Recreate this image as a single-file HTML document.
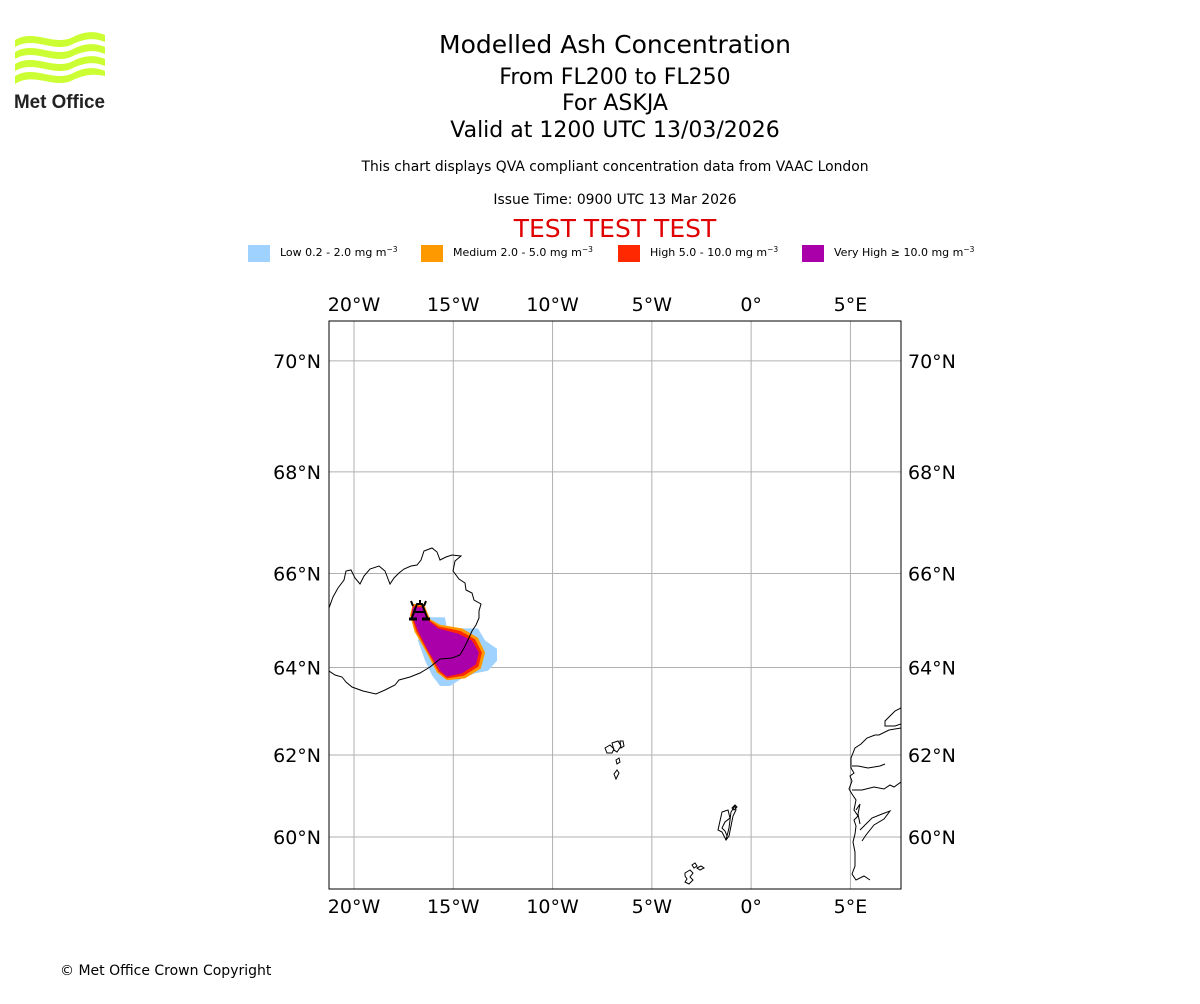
<!DOCTYPE html>
<html><head><meta charset="utf-8"><style>
body{margin:0;width:1200px;height:1000px;background:#fff;overflow:hidden;font-family:"DejaVu Sans","Liberation Sans",sans-serif;}
</style></head><body>
<svg width="1200" height="1000" viewBox="0 0 1200 1000" xmlns="http://www.w3.org/2000/svg" font-family="DejaVu Sans, Liberation Sans, sans-serif">
<g>
  <g fill="#ccff33">
    <path d="M15,40 C35,28 55,48 75,36 C88,30 98,32 105,35 L105,42 C95,38 88,38 75,43 C55,55 35,35 15,47Z"/>
    <path d="M15,52 C35,40 55,60 75,48 C88,42 98,44 105,47 L105,54 C95,50 88,50 75,55 C55,67 35,47 15,59Z"/>
    <path d="M15,64 C35,52 55,72 75,60 C88,54 98,56 105,59 L105,66 C95,62 88,62 75,67 C55,79 35,59 15,71Z"/>
    <path d="M15,76 C35,64 55,84 75,72 C88,66 98,68 105,71 L105,76 C95,74 88,74 75,79 C55,91 35,71 15,84Z"/>
  </g>
  <text x="14" y="108" font-size="19" font-weight="bold" fill="#222" font-family="Liberation Sans, sans-serif" textLength="91" lengthAdjust="spacingAndGlyphs">Met Office</text>
</g>
<g text-anchor="middle" fill="#000">
  <text x="615" y="53" font-size="25">Modelled Ash Concentration</text>
  <text x="615" y="84" font-size="22">From FL200 to FL250</text>
  <text x="615" y="110" font-size="22">For ASKJA</text>
  <text x="615" y="137" font-size="22">Valid at 1200 UTC 13/03/2026</text>
  <text x="615" y="171" font-size="13.9">This chart displays QVA compliant concentration data from VAAC London</text>
  <text x="615" y="204" font-size="13.9">Issue Time: 0900 UTC 13 Mar 2026</text>
  <text x="615" y="237" font-size="25" fill="#e00000">TEST TEST TEST</text>
</g>
<g font-size="11">
  <g><rect x="248" y="245" width="22" height="17" fill="#a0d2ff"/><text x="280" y="256">Low 0.2 - 2.0 mg m<tspan dy="-4" font-size="7.5">−3</tspan></text></g>
  <g><rect x="421" y="245" width="22" height="17" fill="#ff9900"/><text x="453" y="256">Medium 2.0 - 5.0 mg m<tspan dy="-4" font-size="7.5">−3</tspan></text></g>
  <g><rect x="618" y="245" width="22" height="17" fill="#ff2800"/><text x="650" y="256">High 5.0 - 10.0 mg m<tspan dy="-4" font-size="7.5">−3</tspan></text></g>
  <g><rect x="802" y="245" width="22" height="17" fill="#aa00aa"/><text x="834" y="256">Very High  ≥  10.0 mg m<tspan dy="-4" font-size="7.5">−3</tspan></text></g>
</g>
<defs><clipPath id="mapclip"><rect x="329" y="321" width="572" height="568"/></clipPath></defs>
<g id="grid"></g>
<g id="plume" clip-path="url(#mapclip)"></g>
<g clip-path="url(#mapclip)" fill="none" stroke="#000" stroke-width="1">
  <path d="M329,608 L333,597 338,588 344,580 346,571 351,570 355,578 360,584 364,576 370,569 379,566 385,571 390,584 394,578 399,573 404,569 411,566 417,565 421,560 424,551 432,548 437,552 440,560 446,557 452,555 461,556 455,561 453,571 459,579 465,583 466,590 472,593 474,600 481,604 479,611 479,618 476,625 472,631 468,640 464,648 460,655 452,658 440,659 430,667 420,673 410,677 399,680 395,685 385,690 376,694 363,691 352,687 346,682 342,677 335,675 329,671"/>
  <path d="M605,748 l5,-3 4,4 -2,4 -5,0z M612,743 l6,-2 3,5 -4,6 -3,-2z M620,741 l3,0 1,5 -3,2z M616,760 l3,-2 1,4 -3,2z M614,774 l3,-4 2,3 -3,6z"/>
  <path d="M722,812 l6,-2 2,8 -5,4 -3,6 3,3 2,5 -1,4 3,-12 2,-16 4,-6 1,4 -3,6 -2,10 -2,10 -3,4 -2,-4 -2,-4 -4,-2z M732,808 l3,-3 2,2 -3,3z"/>
  <path d="M685,873 l5,-3 3,3 -3,4 3,3 -4,4 -4,-2 2,-3 -2,-3z M692,865 l3,-2 2,3 -3,2z M697,868 l4,-2 3,2 -4,2z"/>
  <path d="M901,708 l-6,3 -10,10 0,5 10,0 6,-2 M901,728 l-12,2 -10,5 -4,0 -8,3 -6,6 -6,4 -4,10 0,10 3,5 -4,3 2,5 -3,8 3,5 4,6 -2,10 4,6 -4,4 2,6 -1,8 -2,8 2,10 0,14 -3,8 4,6 8,-4 6,4 M852,766 l6,0 10,2 12,-2 5,-2 M852,790 l10,0 12,-3 10,2 6,-4 4,2 7,-5 M860,830 l12,-12 10,-4 8,-3 -6,8 -10,6 -8,10 -4,6 M856,810 l4,-6 -2,10 2,10"/>
</g>
<g stroke="#000" stroke-width="2" fill="none">
  <path d="M414,612 L417,604 L422,604 L425,612"/>
  <path d="M411,620 L414,612 L425,612 L428,620" />
  <path d="M409,619 h8 M422,619 h8" stroke-width="3"/>
  <path d="M413,606 l-2,-5 M420,604 v-4 M424,606 l2,-5"/>
</g>
<rect x="329" y="321" width="572" height="568" fill="none" stroke="#000" stroke-width="1"/>
<g id="ticks" font-size="19" fill="#000"></g>
<text x="60" y="975" font-size="14">© Met Office Crown Copyright</text>
</svg>
<script>
var lonTicks = [-20, -15, -10, -5, 0, 5];
var lonLabels = ["20°W", "15°W", "10°W", "5°W", "0°", "5°E"];
var latTicks = [60, 62, 64, 66, 68, 70];
var latLabels = ["60°N", "62°N", "64°N", "66°N", "68°N", "70°N"];
var lowLon = [-16.17,-15.42,-15.32,-13.76,-13.40,-12.80,-12.80,-13.25,-13.91,-14.56,-15.17,-15.67,-16.07,-16.42,-16.78];
var lowLat = [65.09,65.09,64.85,64.85,64.59,64.41,64.15,63.93,63.87,63.76,63.59,63.59,63.83,64.15,64.59];
var medLon = [-17.03,-16.48,-16.17,-15.67,-14.56,-13.76,-13.40,-13.61,-14.41,-15.32,-15.82,-16.35,-16.95,-17.18];
var medLat = [65.37,65.37,65.05,64.93,64.85,64.65,64.33,63.98,63.76,63.72,63.89,64.33,64.78,65.13];
var highLon = [-17.03,-16.48,-16.22,-15.72,-14.66,-13.91,-13.56,-13.73,-14.48,-15.32,-15.75,-16.30,-16.86,-17.13];
var highLat = [65.33,65.33,65.03,64.89,64.80,64.62,64.33,64.02,63.82,63.76,63.91,64.35,64.79,65.13];
var vhLon = [-17.03,-16.48,-16.27,-15.77,-14.76,-14.06,-13.71,-13.86,-14.56,-15.32,-15.67,-16.27,-16.78,-17.08];
var vhLat = [65.30,65.30,65.02,64.85,64.74,64.59,64.33,64.07,63.87,63.80,63.93,64.37,64.80,65.13];
var plumeColors = ["#a0d2ff", "#ff9900", "#ff2800", "#aa00aa"];
var plumeNames = ["ash-low", "ash-medium", "ash-high", "ash-very-high"];

var NS = "http://www.w3.org/2000/svg";
var K = 1137.7;
function merc(lat){ return Math.log(Math.tan(Math.PI/4 + lat*Math.PI/360)); }
function xScale(lon){ return 354 + (lon + 20) * K * Math.PI / 180; }
function yScale(lat){ return 837 - (merc(lat) - merc(60)) * K; }

var grid = document.getElementById('grid');
var ticks = document.getElementById('ticks');
lonTicks.forEach(function(lon, i){
  var x = xScale(lon);
  var l = document.createElementNS(NS, 'line');
  l.setAttribute('x1', x); l.setAttribute('x2', x); l.setAttribute('y1', 321); l.setAttribute('y2', 889);
  l.setAttribute('stroke', '#b0b0b0'); l.setAttribute('stroke-width', '1');
  
  
  grid.appendChild(l);
  [311, 913].forEach(function(y){
    var t = document.createElementNS(NS, 'text');
    t.setAttribute('x', x); t.setAttribute('y', y); t.setAttribute('text-anchor', 'middle');
    t.textContent = lonLabels[i];
    
    
    ticks.appendChild(t);
  });
});
latTicks.forEach(function(lat, i){
  var y = yScale(lat);
  var l = document.createElementNS(NS, 'line');
  l.setAttribute('x1', 329); l.setAttribute('x2', 901); l.setAttribute('y1', y); l.setAttribute('y2', y);
  l.setAttribute('stroke', '#b0b0b0'); l.setAttribute('stroke-width', '1');
  
  
  grid.appendChild(l);
  var t1 = document.createElementNS(NS, 'text');
  t1.setAttribute('x', 321); t1.setAttribute('y', y + 7); t1.setAttribute('text-anchor', 'end');
  t1.textContent = latLabels[i];
  
  
  ticks.appendChild(t1);
  var t2 = document.createElementNS(NS, 'text');
  t2.setAttribute('x', 908); t2.setAttribute('y', y + 7); t2.setAttribute('text-anchor', 'start');
  t2.textContent = latLabels[i];
  
  
  ticks.appendChild(t2);
});
var plume = document.getElementById('plume');
[[lowLon, lowLat], [medLon, medLat], [highLon, highLat], [vhLon, vhLat]].forEach(function(s, k){
  var pts = s[0].map(function(lon, j){ return xScale(lon).toFixed(1) + ',' + yScale(s[1][j]).toFixed(1); }).join(' ');
  var p = document.createElementNS(NS, 'polygon');
  p.setAttribute('points', pts);
  p.setAttribute('fill', plumeColors[k]);
  
  
  plume.appendChild(p);
});
</script>
</body></html>
